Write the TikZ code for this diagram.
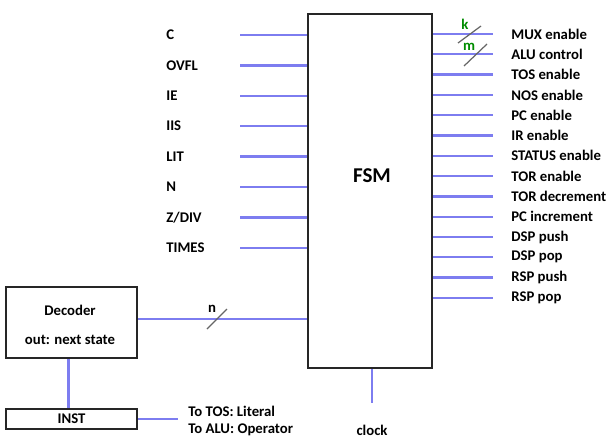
\documentclass[tikz,border=0pt]{standalone}
\usepackage{fontspec}
\setmainfont{Carlito}
\usetikzlibrary{positioning,calc}
\definecolor{sigblue}{RGB}{125,125,240}

\begin{document}
\begin{tikzpicture}[
  x=0.02cm, y=-0.02cm,
  font=\bfseries\fontsize{8.4}{9}\selectfont,
  sig/.style={draw=sigblue, line width=1.3pt},
  blk/.style={draw=black!85, line width=1.2pt, inner sep=0pt},
  bus/.style={draw=black!60, line width=0.7pt},
  buslbl/.style={text=green!55!black, inner sep=0pt}
]
\useasboundingbox (0,0) rectangle (614,437);

% FSM block
\node[blk, minimum width=2.48cm, minimum height=7.08cm] (fsm) at (370,191) {};
\node[font=\bfseries\fontsize{12}{13}\selectfont] (fsmlbl) at (372,176) {FSM};

% Inputs
\foreach \name [count=\i from 0] in {C,OVFL,IE,IIS,LIT,N,Z/DIV,TIMES} {
  \node[anchor=west, inner sep=0pt] (in\i) at (166,{35+30.4*\i}) {\name};
  \coordinate (ia\i) at (240,{35+30.4*\i});
  \draw[sig] (ia\i) -- (ia\i -| fsm.west);
}

% Outputs
\foreach \name [count=\i from 0] in {MUX enable,ALU control,TOS enable,NOS enable,
    PC enable,IR enable,STATUS enable,TOR enable,TOR decrement,PC increment,
    DSP push,DSP pop,RSP push,RSP pop} {
  \coordinate (ob\i) at (493,{34+20.3*\i});
  \node[anchor=west, inner sep=0pt] (out\i) at (511,{34+20.3*\i}) {\name};
  \draw[sig] (ob\i -| fsm.east) -- (ob\i);
}

% Bus widths
\draw[bus] (458,43) -- (481,26);
\node[buslbl] (kw) at (465,24) {k};
\draw[bus] (464,66) -- (487,44);
\node[buslbl] (mw) at (469,47) {m};

% Decoder
\node[blk, minimum width=2.62cm, minimum height=1.42cm] (dec) at (71.5,322.5) {};
\node (declbl) at (70,310) {Decoder};
\node (decout) at (70,340) {out: next state};
\coordinate (dn) at ($(dec.east)+(0,-3.5)$);
\draw[sig] (dn) -- (dn -| fsm.west);
\draw[bus] (207,329) -- (227,309);
\node[inner sep=0pt] (nw) at (212,309) {n};

% Instruction register
\node[blk, minimum width=2.62cm, minimum height=0.4cm] (inst) at (71.5,419) {INST};
\draw[sig] ($(dec.south)+(-3,0)$) -- ($(inst.north)+(-3,0)$);
\coordinate (io) at (178,419);
\draw[sig] (inst.east) -- (io);
\node[anchor=west, inner sep=0pt] (tos) at (188,411) {To TOS: Literal};
\node[anchor=west, inner sep=0pt] (alu) at (188,430) {To ALU: Operator};

% Clock
\coordinate (ck) at (372,403);
\draw[sig] (ck |- fsm.south) -- (ck);
\node (clk) at (372,430) {clock};

\end{tikzpicture}
\end{document}
